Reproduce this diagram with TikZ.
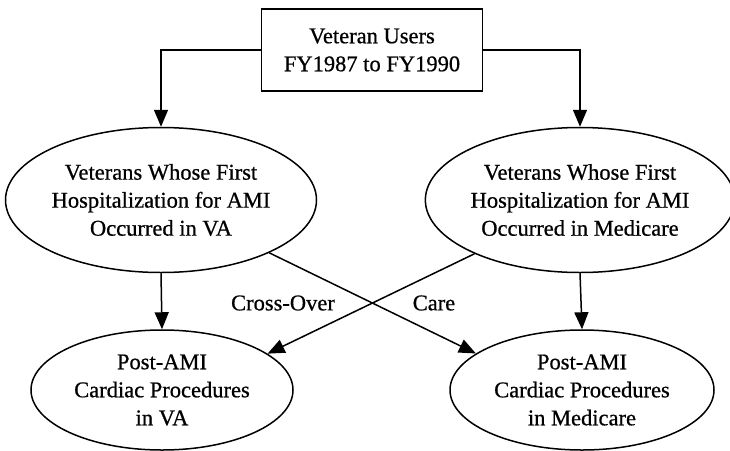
\documentclass[tikz,border=0pt]{standalone}
\usepackage{fontspec}
\setmainfont{Liberation Serif}[FakeBold=0.7]
\usetikzlibrary{shapes.geometric,arrows.meta}
\tikzset{
  txt/.style={font=\fontsize{22.5}{28}\selectfont, align=center, inner sep=0pt},
  ell/.style={txt, draw, ellipse, line width=1.5pt},
  topbox/.style={txt, draw, rectangle, line width=1.5pt},
  arr/.style={line width=1.5pt, -{Triangle[length=17pt,width=14pt]}},
  lbl/.style={font=\fontsize{22.5}{28}\selectfont, inner sep=0pt}
}
\begin{document}
\begin{tikzpicture}[x=1pt,y=-1pt]
\useasboundingbox (0,0) rectangle (730,450);
\node[topbox, minimum width=221pt, minimum height=82pt] (top) at (372,50) {Veteran Users\\FY1987 to FY1990};
\node[ell, minimum width=311pt, minimum height=145pt] (e1) at (161,200) {Veterans Whose First\\Hospitalization for AMI\\Occurred in VA};
\node[ell, minimum width=302pt, minimum height=145pt] (e2) at (580,200) {Veterans Whose First\\Hospitalization for AMI\\Occurred in Medicare};
\node[ell, minimum width=262pt, minimum height=120pt] (e3) at (162,390) {Post-AMI\\Cardiac Procedures\\in VA};
\node[ell, minimum width=264pt, minimum height=120pt] (e4) at (582,390) {Post-AMI\\Cardiac Procedures\\in Medicare};
\node[lbl] (co) at (283,303) {Cross-Over};
\node[lbl] (care) at (434,303) {Care};
\draw[arr] (top.west) -| (e1.north);
\draw[arr] (top.east) -| (e2.north);
\draw[arr] (e1.south) -- (e3.north);
\draw[arr] (e2.south) -- (e4.north);
\draw[arr] (e1.-26) -- (e4.161);
\draw[arr] (e2.207) -- (e3.19);
\end{tikzpicture}
\end{document}
